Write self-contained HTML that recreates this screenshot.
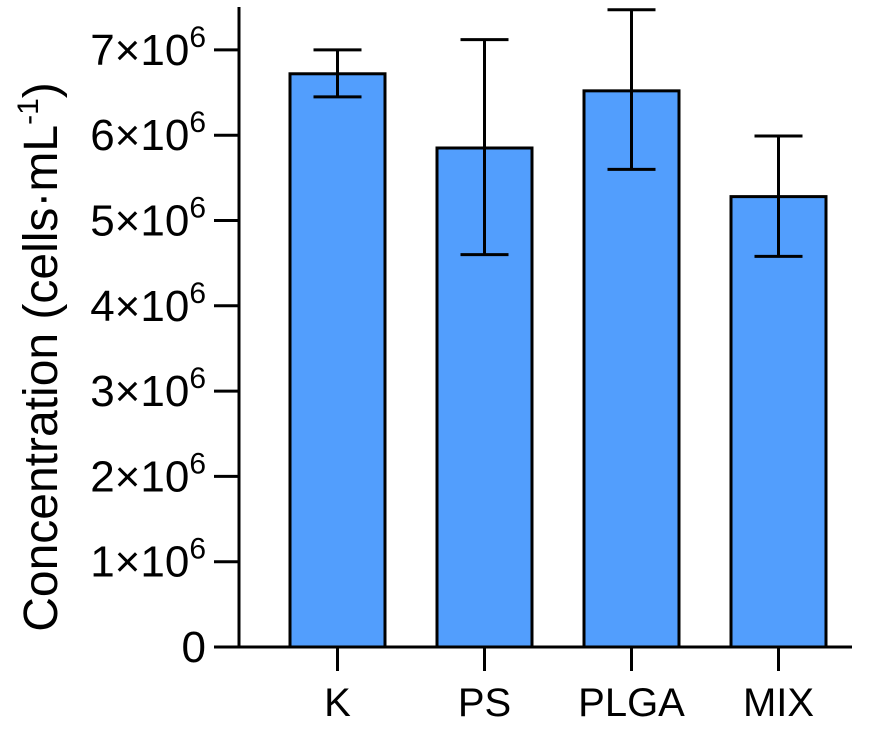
<!DOCTYPE html>
<html><head><meta charset="utf-8"><style>
body{margin:0;background:#fff;}
svg text{font-family:"Liberation Sans",Arial,sans-serif;fill:#000;}
</style></head><body>
<svg id="chart" width="886" height="725"></svg>
<script>
const categories=["K","PS","PLGA","MIX"];
const means=[6.72,5.85,6.52,5.28];
const errLow=[6.45,4.6,5.6,4.58];
const errHigh=[7.0,7.12,7.47,5.99];
const yTicks=[0,1,2,3,4,5,6,7];
const NS="http://www.w3.org/2000/svg";
const svg=document.getElementById('chart');
const y0=647,unit=85.3,axX=239;
const y=v=>y0-v*unit;
const x=i=>337.5+i*147;
const bw=95;
function el(t,a,p){const e=document.createElementNS(NS,t);for(const k in a)e.setAttribute(k,a[k]);(p||svg).appendChild(e);return e;}
categories.forEach((c,i)=>{
 const r=el('rect',{x:x(i)-bw/2,y:y(means[i]),width:bw,height:y0-y(means[i]),fill:'#529efd',stroke:'#000','stroke-width':3});
 
 
 const g=el('g',{stroke:'#000','stroke-width':3,fill:'none'});
 
 
 el('line',{x1:x(i),x2:x(i),y1:y(errLow[i]),y2:y(errHigh[i])},g);
 el('line',{x1:x(i)-24,x2:x(i)+24,y1:y(errLow[i]),y2:y(errLow[i])},g);
 el('line',{x1:x(i)-24,x2:x(i)+24,y1:y(errHigh[i]),y2:y(errHigh[i])},g);
 el('line',{x1:x(i),x2:x(i),y1:y0,y2:671,stroke:'#000','stroke-width':3});
 const t=el('text',{x:x(i),y:716,'font-size':40,'text-anchor':'middle'});
 t.textContent=c;
 
 
});
const ya=el('line',{x1:axX,x2:axX,y1:7,y2:y0+1.5,stroke:'#000','stroke-width':3});


const xa=el('line',{x1:214,x2:852,y1:y0,y2:y0,stroke:'#000','stroke-width':3});


yTicks.forEach(v=>{
 el('line',{x1:214,x2:axX,y1:y(v),y2:y(v),stroke:'#000','stroke-width':3});
 const t=el('text',{x:206,y:y(v)+15,'font-size':44,'text-anchor':'end'});
 if(v===0)t.textContent='0';
 else{t.textContent=v+'×10';const s=el('tspan',{dy:-18,'font-size':30},t);s.textContent='6';}
 
 
});
const yt=el('text',{x:0,y:0,'font-size':48,'text-anchor':'middle',transform:'translate(57,357) rotate(-90)'});
yt.textContent='Concentration (cells·mL';
const sp=el('tspan',{dy:-19,'font-size':30},yt);sp.textContent='-1';
const sp2=el('tspan',{dy:19},yt);sp2.textContent=')';


</script>
</body></html>
